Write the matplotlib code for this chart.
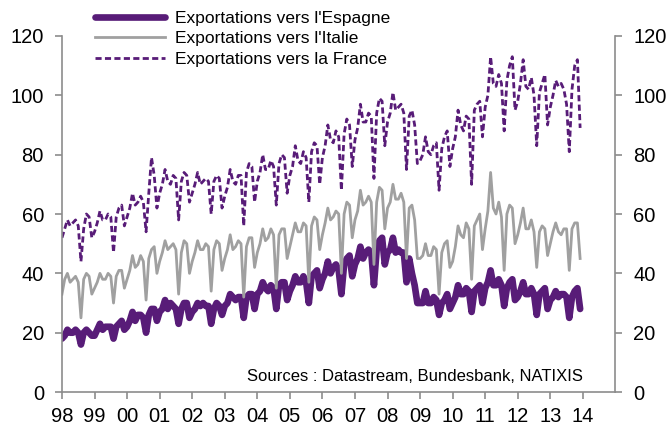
import numpy as np
import matplotlib.pyplot as plt

plt.rcParams['font.family'] = ['Liberation Sans', 'DejaVu Sans']

# monthly values, Jan 1998 - Dec 2013 (one row per year)
espagne = [
    [18, 19, 21, 20, 20, 21, 20, 16, 20, 21, 20, 19],
    [19, 21, 23, 21, 22, 22, 22, 18, 22, 23, 24, 21],
    [22, 24, 27, 24, 26, 26, 25, 20, 26, 28, 28, 24],
    [27, 28, 31, 28, 30, 29, 28, 23, 28, 30, 30, 25],
    [27, 28, 30, 29, 30, 29, 29, 23, 28, 30, 29, 26],
    [29, 30, 33, 32, 31, 32, 32, 25, 32, 33, 33, 28],
    [33, 34, 37, 35, 34, 36, 35, 28, 36, 37, 37, 31],
    [34, 36, 39, 37, 37, 39, 37, 30, 39, 40, 41, 35],
    [38, 40, 44, 40, 42, 43, 41, 33, 43, 45, 46, 39],
    [43, 45, 49, 45, 47, 48, 47, 36, 48, 51, 52, 43],
    [47, 48, 52, 47, 48, 47, 47, 37, 45, 40, 36, 30],
    [30, 30, 34, 30, 30, 32, 31, 26, 30, 31, 33, 28],
    [30, 32, 36, 33, 33, 35, 34, 27, 34, 35, 36, 30],
    [35, 37, 41, 36, 36, 38, 36, 29, 35, 37, 38, 31],
    [32, 34, 37, 33, 33, 35, 33, 26, 33, 34, 35, 28],
    [31, 32, 34, 32, 33, 33, 32, 25, 32, 34, 35, 28],
]
italie = [
    [33, 38, 40, 37, 38, 39, 37, 25, 38, 40, 39, 33],
    [35, 37, 40, 38, 38, 40, 39, 30, 39, 41, 41, 35],
    [38, 41, 46, 42, 43, 46, 44, 31, 45, 48, 49, 40],
    [44, 47, 51, 48, 49, 50, 48, 33, 47, 51, 50, 40],
    [44, 47, 51, 48, 48, 50, 49, 34, 48, 51, 50, 41],
    [45, 48, 53, 48, 49, 51, 50, 32, 49, 52, 52, 42],
    [47, 50, 55, 51, 52, 55, 53, 35, 53, 55, 55, 45],
    [49, 53, 57, 54, 54, 57, 56, 37, 56, 59, 58, 48],
    [53, 57, 62, 58, 59, 61, 60, 40, 60, 64, 63, 52],
    [58, 61, 68, 63, 64, 66, 64, 43, 64, 69, 68, 55],
    [62, 64, 70, 65, 65, 67, 64, 45, 62, 63, 58, 45],
    [45, 46, 50, 46, 46, 49, 48, 33, 47, 50, 51, 42],
    [44, 49, 56, 53, 52, 57, 55, 38, 56, 58, 60, 48],
    [55, 61, 74, 62, 60, 64, 59, 41, 60, 63, 62, 50],
    [53, 57, 62, 55, 55, 58, 54, 42, 54, 56, 55, 46],
    [50, 54, 57, 54, 53, 55, 55, 41, 55, 57, 57, 45],
]
france = [
    [52, 55, 58, 56, 57, 58, 56, 44, 55, 60, 59, 52],
    [54, 57, 61, 58, 58, 60, 59, 47, 59, 62, 63, 56],
    [59, 62, 67, 63, 64, 66, 64, 54, 67, 79, 73, 62],
    [67, 70, 75, 71, 70, 73, 72, 58, 71, 74, 73, 64],
    [67, 70, 74, 70, 71, 72, 71, 60, 71, 73, 72, 62],
    [66, 69, 75, 71, 70, 73, 73, 56, 74, 77, 76, 64],
    [71, 74, 80, 75, 75, 78, 76, 63, 77, 80, 79, 67],
    [73, 76, 83, 78, 77, 81, 79, 64, 81, 84, 83, 70],
    [79, 83, 90, 85, 84, 88, 86, 68, 87, 92, 90, 76],
    [85, 89, 97, 91, 91, 94, 93, 72, 94, 99, 98, 83],
    [91, 94, 101, 95, 96, 97, 94, 75, 93, 95, 90, 77],
    [78, 80, 86, 81, 80, 83, 84, 68, 82, 86, 88, 76],
    [82, 86, 95, 90, 88, 93, 92, 70, 95, 97, 98, 86],
    [96, 100, 113, 104, 103, 107, 104, 88, 105, 110, 113, 95],
    [98, 104, 112, 103, 102, 106, 100, 83, 101, 104, 107, 90],
    [96, 100, 105, 103, 104, 102, 97, 81, 102, 110, 112, 89],
]
years = list(range(1998, 2015))
year_labels = ["98", "99", "00", "01", "02", "03", "04", "05", "06",
               "07", "08", "09", "10", "11", "12", "13", "14"]

purple = "#581c78"
grey = "#a0a0a0"
axis_grey = "#8c8c8c"

esp = np.array(espagne).ravel()
ita = np.array(italie).ravel()
fra = np.array(france).ravel()
t = 1998 + np.arange(len(esp)) / 12.0

fig = plt.figure(figsize=(6.7, 4.28), dpi=100)
ax = fig.add_axes([0.0925, 0.084, 0.826, 0.832])

ax.plot(t, esp, color=purple, lw=4.8, solid_capstyle="round",
        solid_joinstyle="round", label="Exportations vers l'Espagne")
ax.plot(t, ita, color=grey, lw=2.0, label="Exportations vers l'Italie")
ax.plot(t, fra, color=purple, lw=2.0, dashes=(2.2, 1.2),
        label="Exportations vers la France")

ax.set_xlim(1998, 2015)
ax.set_ylim(0, 120)
ax.set_yticks(range(0, 121, 20))
ax.set_xticks(years)
ax.set_xticklabels(year_labels)

for s in ["left", "right", "bottom"]:
    ax.spines[s].set_color(axis_grey)
    ax.spines[s].set_linewidth(1.2)
ax.spines["top"].set_visible(False)
ax.spines["right"].set_visible(True)

ax.tick_params(axis="both", colors=axis_grey, labelcolor="black",
               labelsize=14.5, length=5, width=1.2, direction="out")
ax.tick_params(axis="y", left=True, right=True, labelright=True, pad=8)
ax.tick_params(axis="x", pad=6)

leg = ax.legend(loc="upper left", bbox_to_anchor=(0.048, 1.09),
                frameon=False, fontsize=12.5, handlelength=4.0,
                handletextpad=0.6, labelspacing=0.3, borderaxespad=0)

ax.text(0.942, 0.045, "Sources : Datastream, Bundesbank, NATIXIS",
        transform=ax.transAxes, ha="right", va="center", fontsize=12)

fig.savefig("out.png", dpi=100)
